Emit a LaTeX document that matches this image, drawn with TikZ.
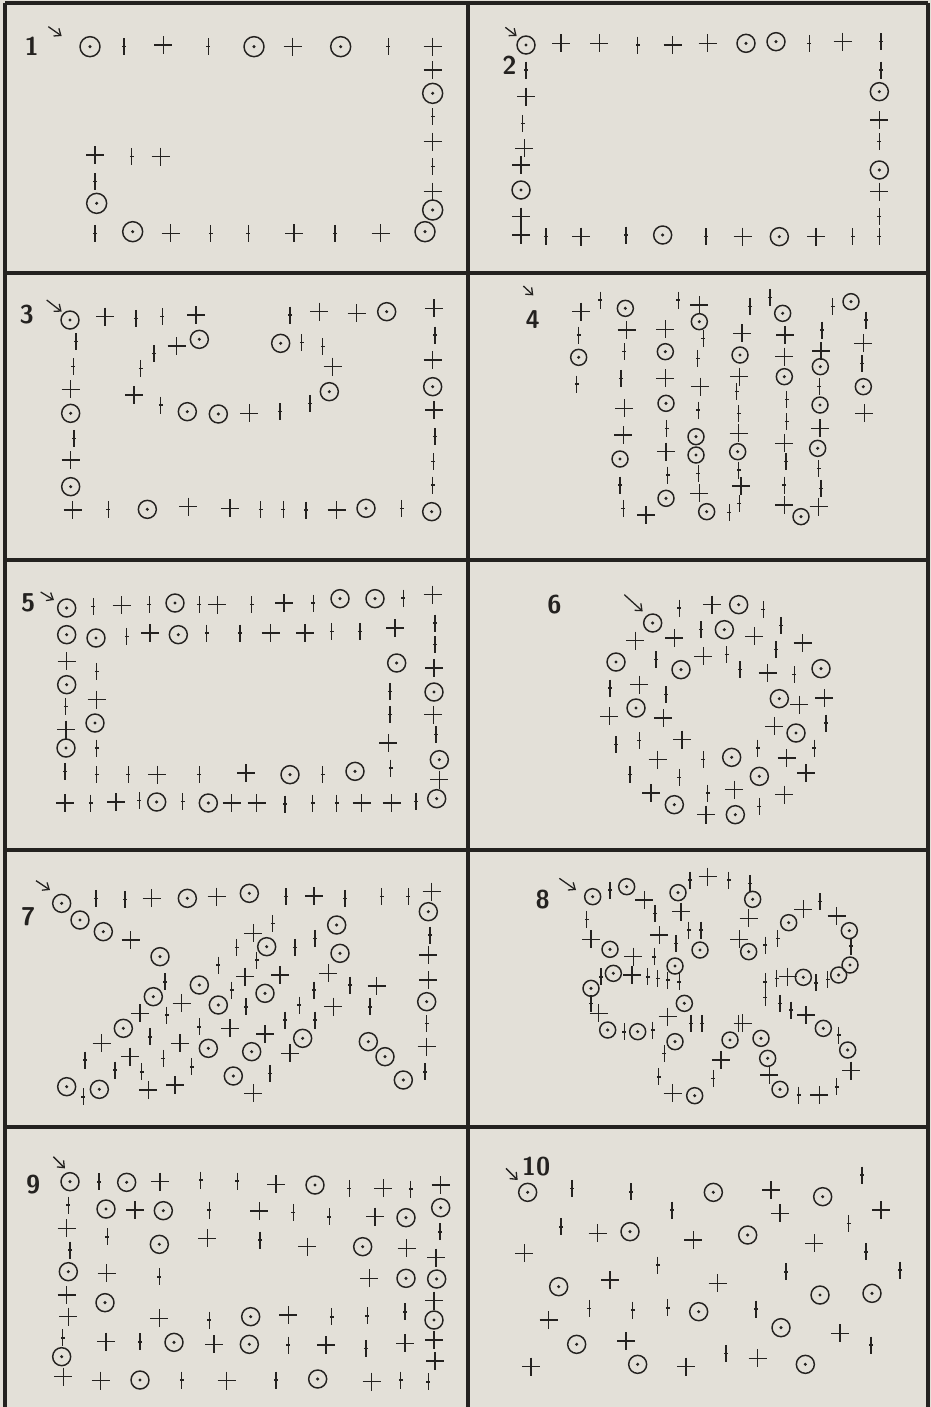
\documentclass[tikz,border=0pt]{standalone}
\usetikzlibrary{arrows.meta}
\definecolor{paper}{RGB}{227,224,216}
\definecolor{ink}{RGB}{36,34,32}
\begin{document}
\begin{tikzpicture}[
  x = 0.3mm, y = -0.3mm,
  rule/.style  = {draw=ink, line width=2.6pt},
  sym/.style   = {draw=ink, line width=1.25pt},
  num/.style   = {font=\sffamily\bfseries\fontsize{22}{22}\selectfont,
                  text=ink, inner sep=0pt},
  start/.style = {draw=ink, line width=1.1pt,
                  -{Straight Barb[length=1.7mm, width=2.8mm]}},
]

\def\rr{9}
\def\rings#1{\foreach \x/\y in {#1}{%
    \draw[sym] ({\x/3},{\y/3}) circle[radius=\rr];
    \fill[ink] ({\x/3},{\y/3}) circle[radius=1.7];}}
\def\crosses#1{\foreach \x/\y in {#1}{%
    \draw[sym] ({\x/3},{\y/3}) +(-9,0) -- +(9,0) +(0,-9) -- +(0,9);}}
\def\ticks#1{\foreach \x/\y in {#1}{%
    \draw[sym] ({\x/3},{\y/3}) +(0,-8.5) -- +(0,8.5);
    \draw[ink, line width=1.4pt] ({\x/3},{\y/3}) +(-1.9,0) -- +(1.9,0);}}

\useasboundingbox (0,0) rectangle (931,1407);
\fill[paper] (0,0) rectangle (931,1407);

\foreach \y in {3,273,560,850,1127}
  \draw[rule] (5,\y) -- (928,\y);
\foreach \x in {5,468,928}
  \draw[rule] (\x,3) -- (\x,1407);

% panel 1
\begin{scope}[shift={(0,0)}]
  \def\rr{10}
  \node[num] (n1) at ({95/3},{140/3}) {1};
  \draw[start] ({145/3},{80/3}) -- ({185/3},{108/3});
  \rings{270/140, 762/140, 1022/140, 1298/280, 1298/630, 290/610, 398/695, 1275/695}
  \crosses{490/135, 878/140, 1298/140, 1298/210, 1298/425, 1298/575, 285/465,
    482/470, 512/700, 882/700, 1142/700}
  \ticks{372/140, 625/140, 1165/140, 1298/350, 1298/500, 395/470, 285/545,
    285/700, 632/700, 745/700, 1005/700}
\end{scope}

% panel 2
\begin{scope}[shift={(466,0)}]
  \node[num] (n2) at ({130/3},{195/3}) {2};
  \draw[start] ({118/3},{82/3}) -- ({152/3},{108/3});
  \rings{180/135, 840/130, 930/125, 1240/275, 1240/510, 165/570, 590/705, 940/710}
  \crosses{285/130, 400/130, 620/135, 725/130, 1130/125, 1240/360, 1240/575,
    180/290, 175/445, 165/495, 165/650, 165/705, 345/710, 830/710, 1050/710}
  \ticks{515/135, 1030/130, 1245/125, 1245/210, 1240/425, 1240/650, 1240/710,
    180/210, 170/370, 240/710, 480/705, 720/710, 1160/710}
\end{scope}

% panel 3
\begin{scope}[shift={(0,240)}]
  \node[num] (n3) at ({80/3},{225/3}) {3};
  \draw[start] ({140/3},{180/3}) -- ({185/3},{215/3});
  \rings{210/240, 1160/215, 598/298, 842/310, 988/455, 1298/440, 212/520,
    562/515, 655/522, 212/740, 442/808, 1098/805, 1295/815}
  \crosses{315/230, 588/225, 958/215, 1070/220, 1302/205, 530/318, 998/380,
    1298/360, 212/448, 402/465, 748/520, 1302/510, 212/660, 218/810, 565/800,
    690/805, 1010/810}
  \ticks{408/235, 487/230, 870/225, 228/305, 462/340, 905/308, 968/320,
    1305/285, 220/380, 422/385, 482/495, 840/515, 930/490, 222/595, 1305/590,
    1300/665, 1298/735, 325/808, 782/808, 850/808, 918/810, 1205/805}
\end{scope}

% panel 4
\begin{scope}[shift={(466,240)}]
  \def\rr{8}
  \node[num] (n4) at ({200/3},{240/3}) {4};
  \draw[start] ({172/3},{138/3}) -- ({202/3},{166/3});
  \rings{478/205, 338/352, 462/657, 598/335, 600/490, 600/775, 700/245, 690/590,
    690/645, 722/815, 822/345, 815/635, 950/220, 955/410, 1005/830, 1155/185,
    1063/380, 1062/495, 1055/625, 1192/440}
  \crosses{345/215, 482/270, 475/505, 472/585, 540/825, 598/268, 598/415,
    600/635, 700/195, 703/440, 700/760, 828/280, 820/410, 818/580, 825/738,
    957/285, 955/350, 955/610, 955/795, 1065/333, 1062/565, 1058/800, 1192/310,
    1195/520}
  \ticks{403/180, 338/285, 332/432, 475/335, 465/415, 462/735, 472/805, 602/565,
    605/705, 637/180, 712/295, 695/355, 697/510, 697/700, 852/200, 812/455,
    818/520, 818/690, 820/790, 790/818, 912/172, 962/478, 962/545, 960/665,
    955/735, 1100/200, 1068/270, 1060/440, 1058/685, 1065/745, 1200/240,
    1188/370}
\end{scope}

% panel 5
\begin{scope}[shift={(0,548)}]
  \node[num] (n5) at ({85/3},{165/3}) {5};
  \draw[start] ({122/3},{132/3}) -- ({162/3},{156/3});
  \rings{200/180, 525/165, 1020/152, 1125/152, 200/260, 288/270, 535/260,
    200/410, 198/600, 285/525, 1190/345, 1302/432, 1318/635, 1310/752, 870/680,
    1065/670, 470/762, 625/765}
  \crosses{365/172, 652/170, 852/165, 1298/140, 450/255, 812/255, 915/255,
    1185/240, 200/340, 198/545, 195/765, 290/455, 1165/585, 1302/360, 1300/500,
    1318/695, 472/680, 738/675, 348/762, 695/765, 770/765, 1085/765, 1175/765}
  \ticks{280/175, 448/170, 598/170, 755/170, 940/165, 1210/150, 380/265,
    620/255, 720/255, 995/250, 1080/250, 1305/225, 197/475, 195/670, 290/370,
    290/600, 1170/430, 1170/500, 1172/660, 1305/290, 1308/560, 290/680, 385/680,
    598/680, 968/680, 272/765, 418/758, 548/760, 855/768, 938/765, 1010/765,
    1248/760}
\end{scope}

% panel 6
\begin{scope}[shift={(466,548)}]
  \node[num] (n6) at ({265/3},{170/3}) {6};
  \draw[start] ({475/3},{140/3}) -- ({530/3},{190/3});
  \rings{560/225, 818/170, 775/245, 450/342, 645/365, 1065/362, 940/452,
    510/480, 990/555, 797/628, 880/685, 625/770, 808/800}
  \crosses{738/170, 625/270, 508/278, 865/265, 1010/285, 712/325, 905/375,
    520/410, 1000/470, 1075/450, 430/505, 592/510, 925/535, 648/575, 575/635,
    962/630, 1020/675, 555/735, 805/725, 955/740, 720/800}
  \ticks{640/180, 892/185, 705/245, 945/232, 570/335, 782/320, 822/365,
    930/305, 985/380, 432/420, 600/440, 1080/525, 450/590, 520/578, 1045/600,
    712/635, 875/600, 492/680, 640/688, 725/735, 880/775}
\end{scope}

% panel 7
\begin{scope}[shift={(0,860)}]
  \node[num] (n7) at ({85/3},{170/3}) {7};
  \draw[start] ({108/3},{62/3}) -- ({150/3},{90/3});
  \rings{185/130, 562/115, 748/100, 240/180, 310/215, 480/290, 1285/155,
    1280/425, 1210/660, 1010/195, 800/260, 1020/280, 598/375, 795/400, 460/410,
    655/435, 370/505, 908/535, 1105/545, 1155/590, 625/565, 755/575, 700/648,
    200/680, 298/688}
  \crosses{455/115, 650/110, 942/108, 1295/95, 392/240, 1285/285, 1285/360,
    1280/560, 760/220, 735/350, 840/345, 985/340, 1130/378, 545/430, 1000/440,
    420/460, 690/505, 795/522, 305/550, 540/550, 870/580, 390/590, 445/690,
    525/675, 760/700}
  \ticks{288/115, 375/118, 858/110, 1035/115, 1145/110, 1225/110, 1290/225,
    1280/490, 1275/635, 818/190, 945/235, 710/262, 885/262, 655/315, 770/300,
    495/365, 1050/375, 695/390, 942/390, 738/440, 898/435, 1110/440, 500/465,
    855/480, 945/480, 598/500, 450/530, 490/595, 255/600, 345/630, 425/635,
    575/620, 810/640, 250/710}
\end{scope}

% panel 8
\begin{scope}[shift={(466,860)}]
  \def\rr{8}
  \node[num] (n8) at ({230/3},{120/3}) {8};
  \draw[start] ({280/3},{55/3}) -- ({330/3},{90/3});
  \rings{380/110, 482/80, 636/98, 860/118, 432/268, 702/270, 848/275, 968/188,
    1150/212, 1152/315, 442/340, 627/318, 375/385, 655/430, 425/510, 515/515,
    627/545, 792/540, 885/535, 1012/352, 1118/345, 1072/505, 1145/570, 905/595,
    942/688, 686/707}
  \crosses{535/120, 725/50, 375/238, 645/155, 848/175, 502/290, 580/225,
    820/238, 1012/148, 1112/168, 498/345, 398/460, 605/470, 765/600, 830/490,
    965/350, 1020/465, 1155/632, 910/645, 1060/705, 620/700}
  \ticks{432/90, 672/60, 788/60, 852/70, 362/178, 567/160, 630/250, 668/210,
    705/210, 898/255, 935/235, 1062/125, 1155/258, 405/350, 545/350, 575/355,
    605/360, 640/365, 565/290, 375/430, 475/515, 560/510, 675/490, 708/490,
    595/580, 818/490, 898/365, 932/355, 1050/368, 1085/358, 898/412, 942/430,
    975/450, 1118/525, 998/705, 1112/680, 578/650, 742/655}
\end{scope}

% panel 9
\begin{scope}[shift={(0,1135)}]
  \node[num] (n9) at ({100/3},{150/3}) {9};
  \draw[start] ({160/3},{65/3}) -- ({195/3},{100/3});
  \rings{210/140, 380/142, 945/150, 318/222, 490/227, 1218/248, 1322/218,
    478/328, 1088/335, 205/410, 1218/430, 1310/432, 315/503, 752/545, 1302/555,
    522/622, 748/628, 185/665, 420/735, 953/732}
  \crosses{480/140, 828/148, 1150/160, 1322/150, 405/225, 778/228, 1125/245,
    200/280, 622/310, 922/335, 1220/340, 1308/368, 320/415, 1108/430, 200/480,
    1302/497, 205/545, 478/550, 865/540, 318/620, 642/628, 978/630, 1215/625,
    1302/615, 1305/678, 190/725, 302/737, 680/737, 1115/740}
  \ticks{297/140, 602/135, 712/138, 1048/160, 1232/162, 205/210, 628/225,
    880/232, 988/245, 322/305, 780/315, 1320/290, 210/345, 478/425, 628/555,
    995/545, 1102/542, 1215/530, 188/608, 420/620, 865/630, 1098/640, 545/735,
    828/735, 1202/735, 1285/740}
\end{scope}

% panel 10
\begin{scope}[shift={(466,1135)}]
  \node[num] (n10) at ({210/3},{95/3}) {10};
  \draw[start] ({120/3},{100/3}) -- ({155/3},{135/3});
  \rings{185/172, 742/172, 1070/185, 492/290, 845/300, 278/455, 1062/480,
    1218/475, 698/530, 945/578, 332/628, 515/688, 1018/688}
  \crosses{915/165, 942/235, 1245/225, 395/295, 682/315, 1045/325, 175/355,
    432/435, 755/445, 248/555, 1122/595, 480/618, 195/695, 660/695, 875/670}
  \ticks{318/160, 495/170, 1188/120, 618/225, 1148/265, 285/275, 1200/350,
    575/390, 1302/405, 960/410, 370/520, 500/525, 605/518, 870/522, 1215/630,
    780/655}
\end{scope}

\end{tikzpicture}
\end{document}
